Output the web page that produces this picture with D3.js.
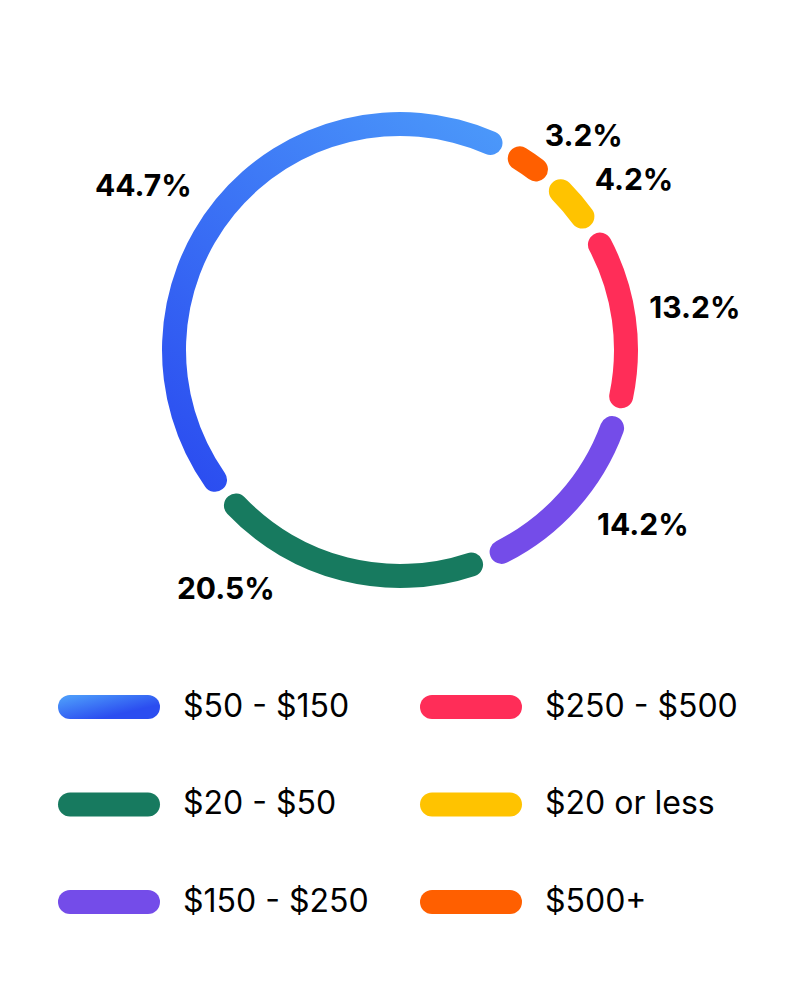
<!DOCTYPE html>
<html>
<head>
<meta charset="utf-8">
<script src="https://cdn.jsdelivr.net/npm/d3@7"></script>
<style>
  html, body { margin: 0; padding: 0; background: #ffffff; }
  svg { display: block; font-family: Inter, "Noto Sans", sans-serif; }
</style>
</head>
<body>
<svg id="chart" width="800" height="986"></svg>
<script>
// Datos del grafico (orden de la leyenda, por columnas)
const categories = ["$50 - $150", "$20 - $50", "$150 - $250", "$250 - $500", "$20 or less", "$500+"];
const values = [44.7, 20.5, 14.2, 13.2, 4.2, 3.2];
const colors = ["url(#blueArc)", "#177a5f", "#744ce9", "#ff2d58", "#ffc300", "#ff5f00"];
const legendColors = ["url(#blueLegend)", "#177a5f", "#744ce9", "#ff2d58", "#ffc300", "#ff5f00"];

// Posicion de las etiquetas (grados desde arriba, radio)
const labelAngles = [302.7, 216.2, 125.7, 81.7, 53.8, 40.5];
const labelRadii = [305, 295, 299, 298, 290, 283];

const cx = 400, cy = 350;
const rMid = 226, thick = 24;
const deg = Math.PI / 180;

const svg = d3.select("#chart");

const data = categories.map((c, i) => ({ name: c, value: values[i], color: colors[i], i }));

// Gradientes del tramo azul
const defs = svg.append("defs");
const g1 = defs.append("linearGradient")
  .attr("id", "blueArc")
  .attr("gradientUnits", "userSpaceOnUse")
  .attr("x1", 105).attr("y1", -215)
  .attr("x2", -195).attr("y2", 140);
g1.append("stop").attr("offset", 0).attr("stop-color", "#4b98fa");
g1.append("stop").attr("offset", 1).attr("stop-color", "#2b4df0");

const g2 = defs.append("linearGradient")
  .attr("id", "blueLegend")
  .attr("x1", 0).attr("y1", 0.2)
  .attr("x2", 0.6).attr("y2", 0.8);
g2.append("stop").attr("offset", 0).attr("stop-color", "#4b98fa");
g2.append("stop").attr("offset", 1).attr("stop-color", "#2b4df0");

// Donut: tramos ordenados de menor a mayor, en sentido horario
const gapAngle = 2.3 * deg;
const startAngle = 27.8 * deg;

const pie = d3.pie()
  .value(d => d.value)
  .sort((a, b) => a.value - b.value)
  .startAngle(startAngle)
  .endAngle(startAngle + 2 * Math.PI)
  .padAngle(gapAngle);

const arc = d3.arc()
  .innerRadius(rMid - thick / 2)
  .outerRadius(rMid + thick / 2)
  .cornerRadius(thick / 2)
  .padRadius(rMid);

const donut = svg.append("g").attr("transform", `translate(${cx},${cy})`);

donut.selectAll("path")
  .data(pie(data))
  .join("path")
  .attr("d", arc)
  .attr("fill", d => d.data.color);

// Etiquetas de porcentaje
donut.selectAll("text.pct")
  .data(data)
  .join("text")
  .attr("class", "pct")
  .attr("x", d => labelRadii[d.i] * Math.sin(labelAngles[d.i] * deg))
  .attr("y", d => -labelRadii[d.i] * Math.cos(labelAngles[d.i] * deg))
  .attr("dy", "0.36em")
  .attr("text-anchor", "middle")
  .attr("font-size", 30)
  .attr("font-weight", 700)
  .attr("fill", "#000")
  .text(d => d.value.toFixed(1) + "%");

// Leyenda en dos columnas
const colX = d3.scalePoint().domain([0, 1]).range([58, 420]);
const rowY = d3.scalePoint().domain([0, 1, 2]).range([707, 902]);

const items = svg.append("g")
  .selectAll("g")
  .data(data)
  .join("g")
  .attr("transform", d => `translate(${colX(Math.floor(d.i / 3))},${rowY(d.i % 3)})`);

items.append("rect")
  .attr("x", 0).attr("y", -12)
  .attr("width", 102).attr("height", 24)
  .attr("rx", 12)
  .attr("fill", d => legendColors[d.i]);

items.append("text")
  .attr("x", 125)
  .attr("y", -2)
  .attr("dy", "0.36em")
  .attr("font-size", 32)
  .attr("fill", "#000")
  .text(d => d.name);
</script>
</body>
</html>
